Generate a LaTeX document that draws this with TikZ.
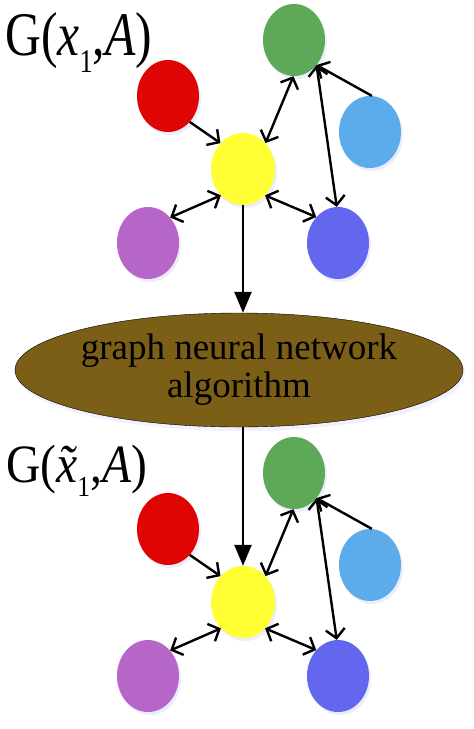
\documentclass[tikz,border=0pt]{standalone}
\usepackage{fontspec}
\setmainfont{LiberationSerif}[Extension=.ttf,UprightFont=*-Regular,ItalicFont=*-Italic,BoldFont=*-Bold]
\usetikzlibrary{shapes.geometric,shadows}
\usetikzlibrary{arrows.meta}
\tikzset{>={Straight Barb[length=9pt,width=19pt]}}
\definecolor{redn}{HTML}{E00505}
\definecolor{yeln}{HTML}{FFFF33}
\definecolor{grnn}{HTML}{5EA957}
\definecolor{skyn}{HTML}{5CABEA}
\definecolor{purn}{HTML}{B566C6}
\definecolor{blun}{HTML}{6267EE}
\definecolor{gnnc}{HTML}{7B5F16}
\tikzset{
  vert/.style={ellipse,inner sep=0pt,minimum width=62pt,minimum height=72pt,
    drop shadow={fill=blue!30,opacity=0.25,shadow xshift=2pt,shadow yshift=-3pt}},
  edge/.style={black,line width=2.4pt},
  flow/.style={black,line width=2.4pt,-{Triangle[length=21pt,width=17pt]}},
  ttl/.style={anchor=base west,inner sep=0pt}
}

\begin{document}
\begin{tikzpicture}[x=1pt,y=-1pt]
            \useasboundingbox (0,0) rectangle (474,729);
            % upper graph G(x_1,A)
            \node[ttl] (ttl1) at (5,55) {\scalebox{0.8}[1]{\fontsize{62}{62}\selectfont G(\textit{x}\raisebox{-17pt}{\fontsize{33}{33}\selectfont 1},\textit{A})}};
            \node[vert,fill=grnn] (grn1) at (294,40) {};
            \node[vert,fill=redn] (red1) at (168,96) {};
            \node[vert,fill=skyn] (sky1) at (370,132) {};
            \node[vert,fill=yeln,minimum width=64pt] (yel1) at (243,169) {};
            \node[vert,fill=purn] (pur1) at (148,243) {};
            \node[vert,fill=blun] (blu1) at (338,243) {};
            \draw[edge,->] (red1.-50) -- (yel1.131);
            \draw[edge,<->] (yel1.49) -- (grn1.-91);
            \draw[edge,->] (sky1.87) -- (grn1.-48);
            \draw[edge,<->] (grn1.-48) -- (blu1.92);
            \draw[edge,<->] (yel1.-130) -- (pur1.49);
            \draw[edge,<->] (yel1.-50) -- (blu1.130);
            % the algorithm
            \node[ellipse,draw=black,fill=gnnc,inner sep=0pt,minimum width=448pt,minimum height=114pt,align=center,
              font=\fontsize{37}{38}\selectfont,
              drop shadow={fill=blue!30,opacity=0.2,shadow xshift=2pt,shadow yshift=-4pt}] (gnn) at (239,370)
              {graph neural network\\algorithm};
            \draw[flow] (yel1) -- (yel1 |- gnn.north);
            % lower graph G(x~_1,A)
            \node[ttl] (ttl2) at (6,482) {\scalebox{0.88}[1]{\fontsize{54}{54}\selectfont G(\textit{\accent"02DC x}\raisebox{-14pt}{\fontsize{29}{29}\selectfont 1},\textit{A})}};
            \node[vert,fill=grnn] (grn2) at (294,473) {};
            \node[vert,fill=redn] (red2) at (168,529) {};
            \node[vert,fill=skyn] (sky2) at (370,565) {};
            \node[vert,fill=yeln,minimum width=64pt] (yel2) at (243,602) {};
            \node[vert,fill=purn] (pur2) at (148,676) {};
            \node[vert,fill=blun] (blu2) at (338,676) {};
            \draw[flow] (gnn.south -| yel2) -- (yel2);
            \draw[edge,->] (red2.-50) -- (yel2.131);
            \draw[edge,<->] (yel2.49) -- (grn2.-91);
            \draw[edge,->] (sky2.87) -- (grn2.-48);
            \draw[edge,<->] (grn2.-48) -- (blu2.92);
            \draw[edge,<->] (yel2.-130) -- (pur2.49);
            \draw[edge,<->] (yel2.-50) -- (blu2.130);
        \end{tikzpicture}
\end{document}
